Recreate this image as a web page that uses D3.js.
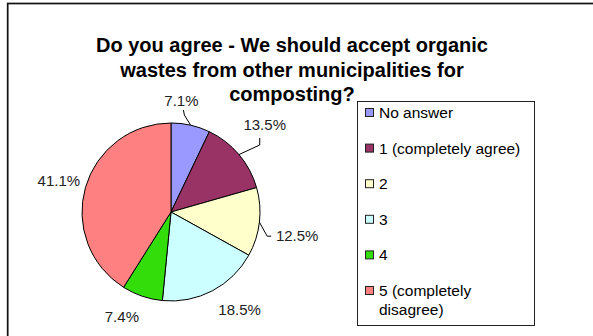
<!DOCTYPE html>
<html><head><meta charset="utf-8">
<script src="https://cdn.jsdelivr.net/npm/d3@7"></script>
<style>body{margin:0;background:#fff}svg{display:block;font-family:"Liberation Sans",Arial,sans-serif}</style>
</head><body><svg id="c" width="593" height="336"></svg>
<script>
const categories = ["No answer","1 (completely agree)","2","3","4","5 (completely disagree)"];
const legendLines = [["No answer"],["1 (completely agree)"],["2"],["3"],["4"],["5 (completely","disagree)"]];
const values = [7.1,13.5,12.5,18.5,7.4,41.1];
const labels = ["7.1%","13.5%","12.5%","18.5%","7.4%","41.1%"];
const colors = ["#9999ff","#993366","#ffffcc","#ccffff","#33dd0a","#ff8080"];
const titleLines = ["Do you agree - We should accept organic","wastes from other municipalities for","composting?"];
// label nudges (layout only)
const nudge = [[-17,10],[-1,-7],[3,10],[11,-12],[-9,-13],[7,3]];
const leaderOn = [true,true,true,false,false,false];

const svg = d3.select("#c");
svg.append("rect").attr("x",7.7).attr("y",3.5).attr("width",620).attr("height",360)
  .attr("fill","none").attr("stroke","#111").attr("stroke-width",1.7);

const cx=171, cy=212, r=89;
const g = svg.append("g").attr("transform",`translate(${cx},${cy})`);
const pie = d3.pie().sort(null).value(d=>d);
const arcs = pie(values);
const arc = d3.arc().innerRadius(0).outerRadius(r);
g.selectAll("path.s").data(arcs).join("path").attr("class","s")
  .attr("d",arc).attr("fill",(d,i)=>colors[i]).attr("stroke","#000").attr("stroke-width",1);

const labelArc = d3.arc().innerRadius(r+35).outerRadius(r+35);
const edgeArc = d3.arc().innerRadius(r).outerRadius(r);
arcs.forEach((a,i)=>{
  const c = labelArc.centroid(a);
  const lx = c[0]+nudge[i][0], ly = c[1]+nudge[i][1];
  g.append("text").attr("x",lx).attr("y",ly).attr("dy","0.35em")
    .attr("text-anchor","middle").attr("font-size",15).attr("fill","#222").text(labels[i]);
  if(leaderOn[i]){
    const e = edgeArc.centroid(a);
    let pts;
    if(i===0) pts=[e,[lx+3,ly+14],[lx+2,ly+9]];
    else if(i===1) pts=[e,[lx-5,ly+20],[lx-5,ly+13]];
    else pts=[e,[lx-30,ly],[lx-26,ly]];
    g.append("path").attr("d",d3.line()(pts)).attr("fill","none").attr("stroke","#000").attr("stroke-width",1);
  }
});

const t = svg.append("text").attr("text-anchor","middle").attr("font-size",20)
  .attr("font-weight","bold").attr("fill","#000");
titleLines.forEach((s,i)=>t.append("tspan").attr("x",292).attr("y",52+i*24.5).text(s));

// legend
const lg = svg.append("g");
lg.append("rect").attr("x",357.5).attr("y",101.5).attr("width",177).attr("height",224)
  .attr("fill","#fff").attr("stroke","#222").attr("stroke-width",1);
const ly0=112.5, step=35.6;
categories.forEach((c,i)=>{
  const y = ly0+i*step;
  lg.append("rect").attr("x",365.5).attr("y",y-4).attr("width",8).attr("height",8)
    .attr("fill",colors[i]).attr("stroke","#222").attr("stroke-width",1);
  const tx = lg.append("text").attr("font-size",15.5).attr("fill","#000");
  legendLines[i].forEach((s,j)=>tx.append("tspan").attr("x",379).attr("y",y+5.5+j*19).text(s));
});
</script></body></html>
